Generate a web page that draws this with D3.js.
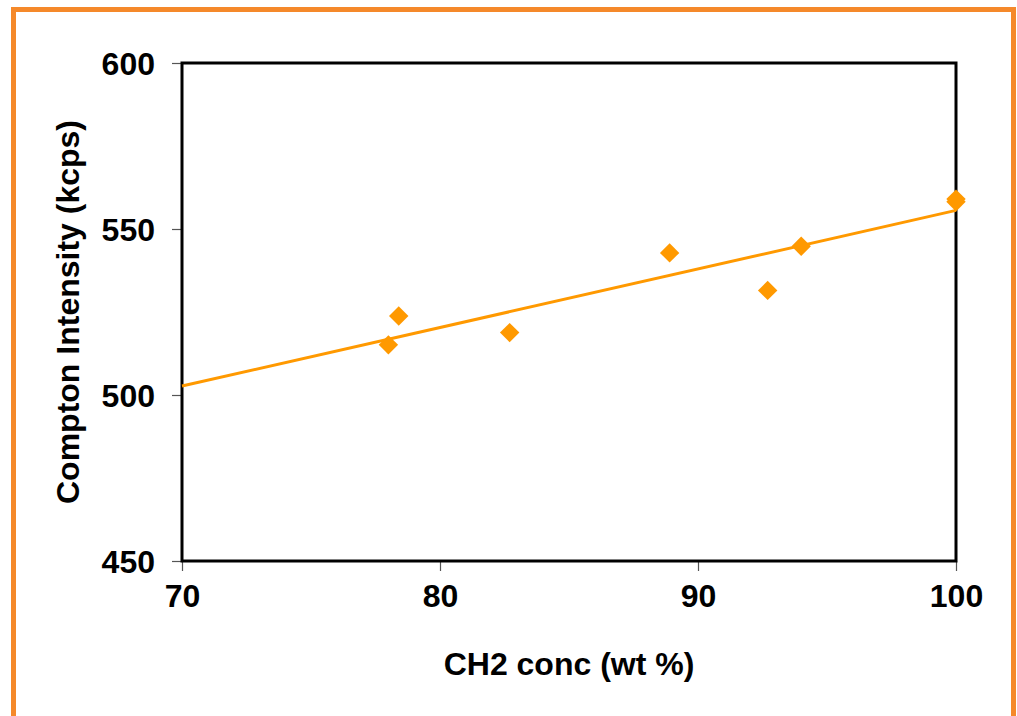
<!DOCTYPE html>
<html>
<head>
<meta charset="utf-8">
<script src="https://cdn.jsdelivr.net/npm/d3@7"></script>
<style>
	body{margin:0;background:#fff;}
	svg{display:block;}
	text{font-family:"Liberation Sans",Arial,sans-serif;font-weight:bold;fill:#000;}
</style>
</head>
<body>
<svg id="chart" width="1017" height="716"></svg>
<script>

// measured points (CH2 wt %, Compton kcps)
var concX = [78.0, 78.4, 82.7, 88.9, 92.7, 94.0, 100.0, 100.0];
var comptonY = [515.1, 523.8, 518.8, 542.8, 531.5, 544.8, 559.0, 558.2];

// trend line ends as drawn in the picture
var trendX = [70, 100];
var trendY = [502.7, 555.6];

var xTicks = [70, 80, 90, 100];
var yTicks = [450, 500, 550, 600];

var ORANGE = '#ff9900';

var svg = d3.select('#chart');

// outer orange frame (runs off the bottom)
svg.append('rect')
	.attr('x',13.5).attr('y',9.5)
	.attr('width',1000).attr('height',800)
	.attr('fill','none')
	.attr('stroke','#f5892a')
	.attr('stroke-width',5);

var box = {l:182, t:63, r:956, b:561};

var x = d3.scaleLinear().domain([70,100]).range([box.l,box.r]);
var y = d3.scaleLinear().domain([450,600]).range([box.b,box.t]);

var g = svg.append('g');

var yAxis = g.append('g')
	.attr('transform','translate('+box.l+',0)')
	.call(d3.axisLeft(y).tickValues(yTicks).tickSize(10).tickPadding(17));
var xAxis = g.append('g')
	.attr('transform','translate(0,'+box.b+')')
	.call(d3.axisBottom(x).tickValues(xTicks).tickSize(10).tickPadding(13));

[yAxis,xAxis].forEach(function(a){
	a.select('.domain').remove();
	a.selectAll('line').attr('stroke','#555').attr('stroke-width',1.2);
	a.selectAll('text').style('font-size','32px').attr('fill','#000');
});
yAxis.selectAll('text').attr('dy','0.35em');

// plot frame
g.append('rect')
	.attr('x',box.l).attr('y',box.t)
	.attr('width',box.r-box.l).attr('height',box.b-box.t)
	.attr('fill','none')
	.attr('stroke','#000')
	.attr('stroke-width',3);

// trend line
var line = d3.line()
	.x(function(d,i){return x(trendX[i]);})
	.y(function(d){return y(d);});
g.append('path')
	.attr('d',line(trendY))
	.attr('fill','none')
	.attr('stroke',ORANGE)
	.attr('stroke-width',3);

// diamonds
var diamond = d3.symbol().type(d3.symbolDiamond2).size(240);
g.selectAll('path.pt')
	.data(concX)
	.enter().append('path')
	.attr('class','pt')
	.attr('d',diamond)
	.attr('transform',function(d,i){return 'translate('+x(d)+','+y(comptonY[i])+')';})
	.attr('fill',ORANGE);

// axis titles
g.append('text')
	.attr('x',(box.l+box.r)/2).attr('y',675)
	.attr('text-anchor','middle')
	.style('font-size','32px')
	.text('CH2 conc (wt %)');

g.append('text')
	.attr('transform','translate(79,'+((box.t+box.b)/2)+') rotate(-90)')
	.attr('text-anchor','middle')
	.style('font-size','32px')
	.text('Compton Intensity (kcps)');

</script>
</body>
</html>
